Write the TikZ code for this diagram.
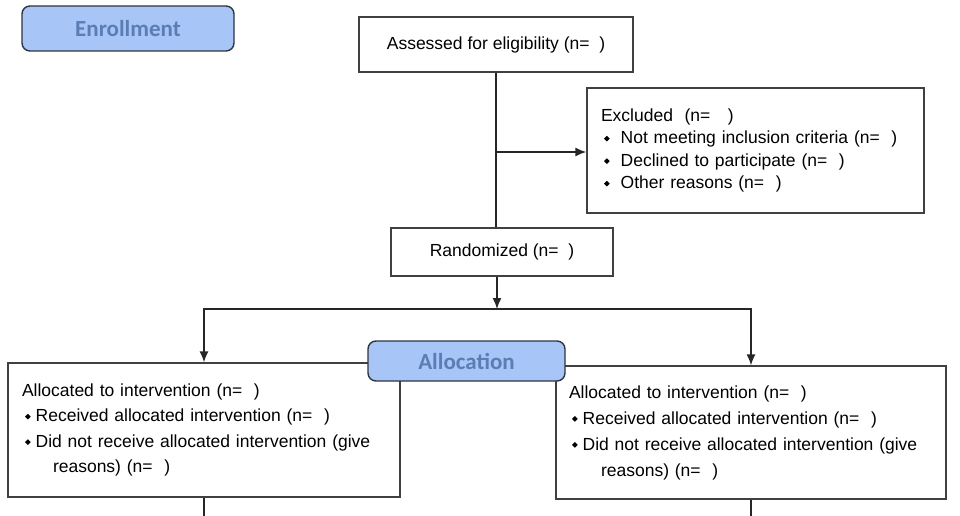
\documentclass[tikz,border=0pt]{standalone}
\usepackage{fontspec}
\setmainfont{Liberation Sans}
\newfontfamily\headfont{Carlito}
\usetikzlibrary{arrows.meta}
\definecolor{headfill}{HTML}{A8C5F7}
\definecolor{headtext}{HTML}{5A7DB3}
\definecolor{headline}{HTML}{2E3440}
\definecolor{boxline}{HTML}{404040}
\newcommand{\dmd}{\raisebox{0.25ex}{\rotatebox{45}{\rule{4pt}{4pt}}}}

\begin{document}
\begin{tikzpicture}[x=1pt, y=-1pt,
	stage/.style={draw=headline, line width=1.4pt, fill=headfill, rounded corners=8pt,
		text=headtext, font=\headfont\bfseries\fontsize{23}{27}\selectfont},
	box/.style={draw=boxline, line width=1.3pt, fill=white, align=left,
		font=\fontsize{17.5}{22.5}\selectfont},
	flow/.style={line width=1.4pt, draw=black!85, -{Latex[length=11pt, width=9pt]}},
	link/.style={line width=1.4pt, draw=black!85}]
	\useasboundingbox (0,0) rectangle (960,516);

	\node[stage, minimum width=212pt, minimum height=45pt] (enroll) at (128,28.5) {Enrollment};

	\node[box, align=center, minimum width=274pt, minimum height=55pt] (assess) at (496,44.5)
		{Assessed for eligibility (n=~~)};

	\node[box, text width=309pt, inner xsep=14pt, minimum height=125pt] (excl) at (755.5,150.5)
		{Excluded~~(n=~~~)\\
		\hspace*{3pt}\dmd\hspace{11pt}Not meeting inclusion criteria (n=~~)\\
		\hspace*{3pt}\dmd\hspace{11pt}Declined to participate (n=~~)\\
		\hspace*{3pt}\dmd\hspace{11pt}Other reasons (n=~~)};

	\node[box, align=center, minimum width=222pt, minimum height=48pt] (rand) at (502,252)
		{Randomized (n=~~)};

	\node[box, font=\fontsize{17.5}{25.5}\selectfont, text width=364pt, inner xsep=14pt,
		minimum height=134pt] (left) at (204,430)
		{Allocated to intervention (n=~~)\\
		\hspace*{3pt}\dmd\hspace{5pt}Received allocated intervention (n=~~)\\
		\hspace*{3pt}\dmd\hspace{5pt}Did not receive allocated intervention (give\\
		\hspace*{31pt}reasons) (n=~~)};

	\node[box, font=\fontsize{17.5}{26}\selectfont, text width=364pt, inner xsep=13pt,
		minimum height=133pt] (right) at (751,432.5)
		{Allocated to intervention (n=~~)\\
		\hspace*{3pt}\dmd\hspace{5pt}Received allocated intervention (n=~~)\\
		\hspace*{3pt}\dmd\hspace{5pt}Did not receive allocated intervention (give\\
		\hspace*{32pt}reasons) (n=~~)};

	\node[stage, minimum width=197pt, minimum height=40pt] (alloc) at (466.5,361) {Allocation};

	\coordinate (split) at (497,309);
	\coordinate (bottom) at (0,516);

	\draw[link] (assess.south) -- (assess.south |- rand.north);
	\draw[flow] (assess.south |- 0,152) -- (excl.west |- 0,152);
	\draw[flow] (split |- rand.south) -- (split);
	\draw[flow] (split) -| (left.north);
	\draw[flow] (split) -| (right.north);

	\draw[link] (left.south) -- (left.south |- bottom);
	\draw[link] (right.south) -- (right.south |- bottom);
\end{tikzpicture}
\end{document}
